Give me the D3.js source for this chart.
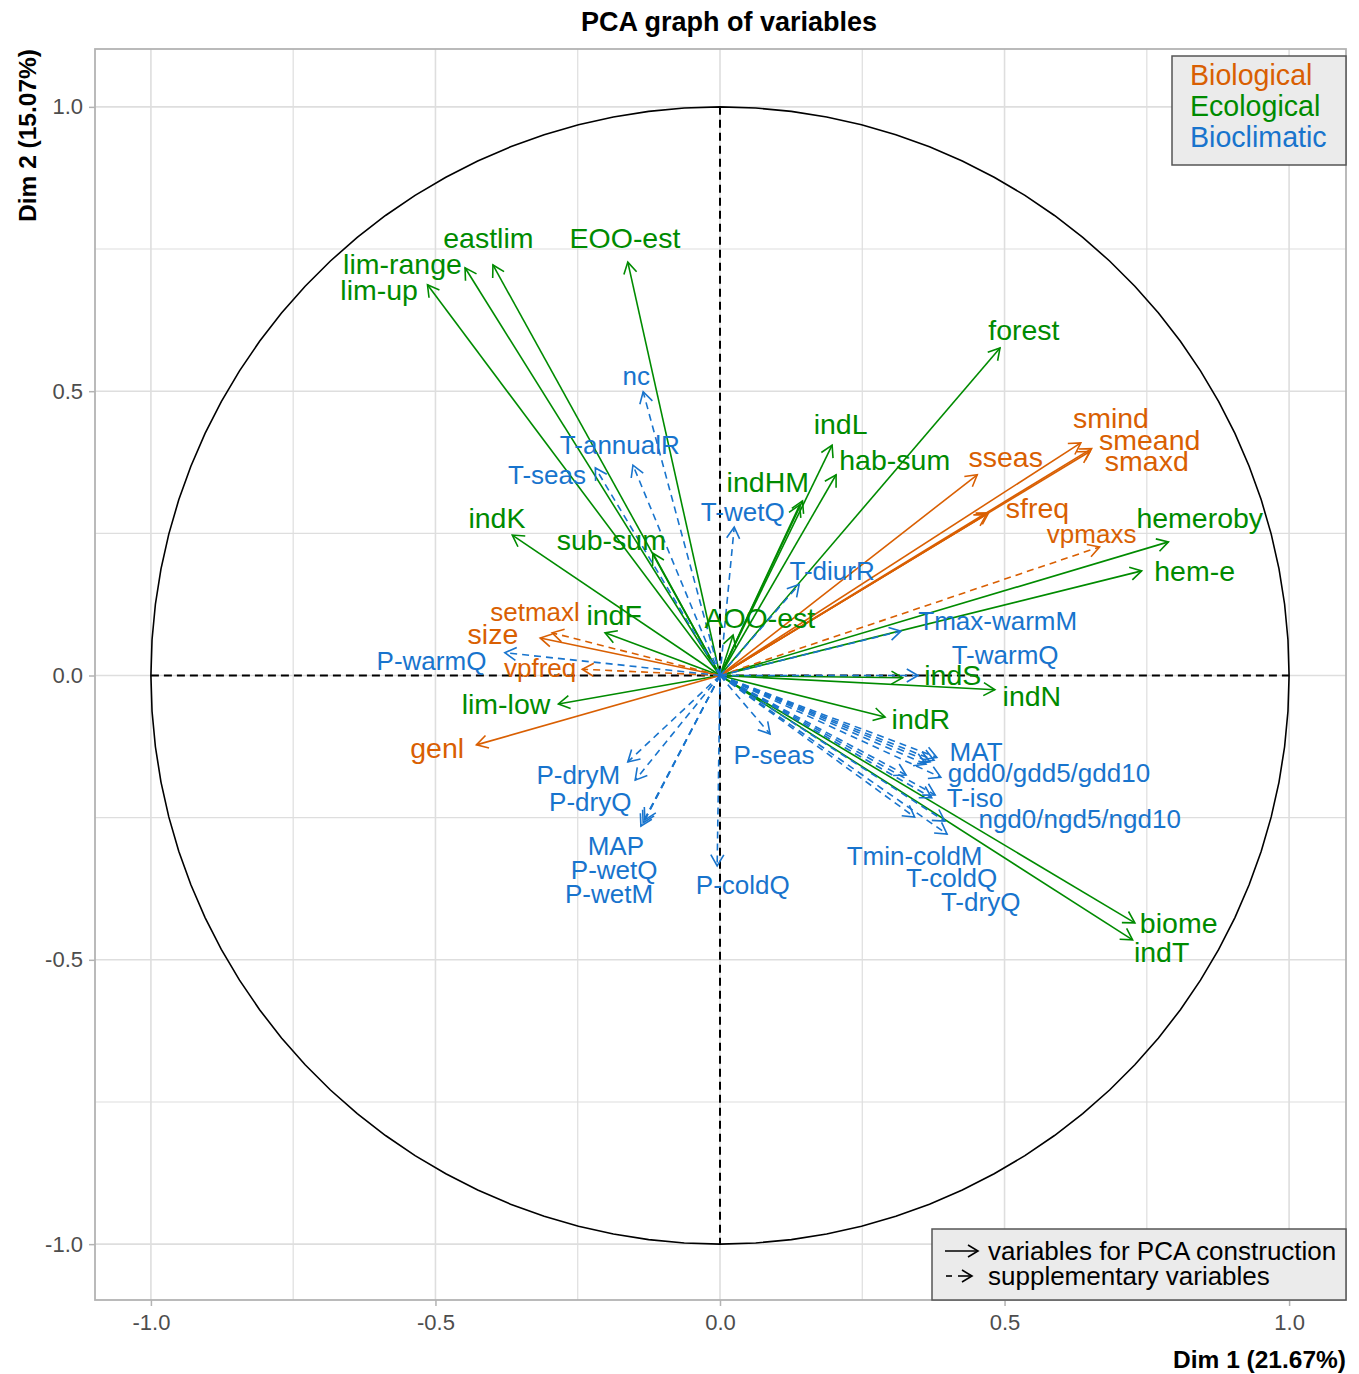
<!DOCTYPE html>
<head>
<meta charset="utf-8">
<script src="https://cdn.jsdelivr.net/npm/d3@7"></script>
</head>
<style>
body { margin: 0; background: #fff; }
text { font-family: "Liberation Sans", Arial, Helvetica, sans-serif; }
.grid line { stroke: #dedede; }
.tick-label { fill: #4d4d4d; font-size: 22px; }
</style>
<body>
<svg id="chart" width="1359" height="1374"></svg>
<script>

// active variables (solid arrows)
var activeNames = ["eastlim", "lim-range", "lim-up", "EOO-est", "forest", "indL", "hab-sum", "indHM", "indHM2",
  "indK", "sub-sum", "indF", "AOO-est", "lim-low", "hemeroby", "hem-e", "indS", "indN", "indR", "biome", "indT",
  "smind", "smeand", "smaxd", "sseas", "sfreq", "sfreq2", "size", "genl"];
var activeDim1 = [-0.399, -0.448, -0.514, -0.162, 0.492, 0.197, 0.204, 0.145, 0.140,
  -0.365, -0.118, -0.202, 0.023, -0.284, 0.788, 0.741, 0.321, 0.483, 0.290, 0.729, 0.725,
  0.634, 0.653, 0.650, 0.452, 0.472, 0.468, -0.316, -0.428];
var activeDim2 = [0.722, 0.717, 0.687, 0.727, 0.576, 0.405, 0.353, 0.307, 0.300,
  0.247, 0.215, 0.075, 0.071, -0.050, 0.235, 0.184, -0.004, -0.025, -0.073, -0.435, -0.465,
  0.409, 0.399, 0.394, 0.353, 0.286, 0.283, 0.066, -0.122];
var activeGroup = ["Eco", "Eco", "Eco", "Eco", "Eco", "Eco", "Eco", "Eco", "Eco",
  "Eco", "Eco", "Eco", "Eco", "Eco", "Eco", "Eco", "Eco", "Eco", "Eco", "Eco", "Eco",
  "Bio", "Bio", "Bio", "Bio", "Bio", "Bio", "Bio", "Bio"];

// supplementary variables (dashed arrows)
var suppNames = ["vpmaxs", "setmaxl", "vpfreq", "nc", "T-annualR", "T-seas", "T-wetQ", "T-diurR", "Tmax-warmM",
  "T-warmQ", "P-warmQ", "P-seas", "MAT", "gdd0", "gdd5", "gdd10", "T-iso", "ngd0", "ngd5", "ngd10",
  "Tmin-coldM", "T-coldQ", "T-dryQ", "P-dryM", "P-dryQ", "MAP", "P-wetQ", "P-wetM", "P-coldQ"];
var suppDim1 = [0.667, -0.295, -0.242, -0.135, -0.153, -0.219, 0.025, 0.139, 0.318,
  0.348, -0.378, 0.088, 0.381, 0.376, 0.369, 0.362, 0.388, 0.327, 0.378, 0.372,
  0.342, 0.395, 0.399, -0.162, -0.149, -0.132, -0.135, -0.139, -0.005];
var suppDim2 = [0.226, 0.075, 0.011, 0.499, 0.370, 0.365, 0.261, 0.160, 0.078,
  0.000, 0.040, -0.103, -0.144, -0.149, -0.152, -0.156, -0.179, -0.175, -0.210, -0.215,
  -0.249, -0.256, -0.279, -0.152, -0.184, -0.254, -0.259, -0.265, -0.335];
var suppGroup = ["Bio", "Bio", "Bio", "Clim", "Clim", "Clim", "Clim", "Clim", "Clim",
  "Clim", "Clim", "Clim", "Clim", "Clim", "Clim", "Clim", "Clim", "Clim", "Clim", "Clim",
  "Clim", "Clim", "Clim", "Clim", "Clim", "Clim", "Clim", "Clim", "Clim"];

// repelled label positions (in Dim units)
var labelText = ["eastlim", "lim-range", "lim-up", "EOO-est", "forest", "indL", "hab-sum", "indHM", "indK",
  "sub-sum", "indF", "AOO-est", "lim-low", "hemeroby", "hem-e", "indS", "indN", "indR", "biome", "indT",
  "smind", "smeand", "smaxd", "sseas", "sfreq", "size", "genl",
  "vpmaxs", "setmaxl", "vpfreq", "nc", "T-annualR", "T-seas", "T-wetQ", "T-diurR", "Tmax-warmM", "T-warmQ",
  "P-warmQ", "P-seas", "MAT", "gdd0/gdd5/gdd10", "T-iso", "ngd0/ngd5/ngd10", "Tmin-coldM", "T-coldQ", "T-dryQ",
  "P-dryM", "P-dryQ", "MAP", "P-wetQ", "P-wetM", "P-coldQ"];
var labelDim1 = [-0.407, -0.558, -0.599, -0.167, 0.534, 0.212, 0.307, 0.084, -0.392,
  -0.191, -0.186, 0.070, -0.376, 0.843, 0.834, 0.409, 0.548, 0.353, 0.806, 0.776,
  0.687, 0.755, 0.750, 0.502, 0.558, -0.399, -0.497,
  0.653, -0.325, -0.316, -0.147, -0.176, -0.304, 0.040, 0.197, 0.488, 0.501,
  -0.507, 0.095, 0.450, 0.578, 0.448, 0.632, 0.342, 0.407, 0.458,
  -0.249, -0.228, -0.183, -0.186, -0.195, 0.040];
var labelDim2 = [0.770, 0.724, 0.678, 0.770, 0.608, 0.442, 0.380, 0.341, 0.277,
  0.238, 0.106, 0.101, -0.050, 0.277, 0.184, 0.001, -0.036, -0.076, -0.434, -0.486,
  0.453, 0.415, 0.377, 0.384, 0.295, 0.073, -0.127,
  0.249, 0.113, 0.013, 0.527, 0.406, 0.353, 0.289, 0.184, 0.096, 0.036,
  0.027, -0.140, -0.134, -0.171, -0.215, -0.252, -0.316, -0.356, -0.397,
  -0.175, -0.221, -0.300, -0.342, -0.384, -0.367];
var labelSupp = labelText.map(function(d, i) { return i >= 27; });
var labelGroup = labelText.map(function(d, i) {
  if (i < 20) return "Eco";
  if (i < 30) return "Bio";
  return "Clim";
});

var ticks = [-1.0, -0.5, 0.0, 0.5, 1.0];
var minorTicks = [-0.75, -0.25, 0.25, 0.75];

var colors = {Bio: "#D95F02", Eco: "#008B00", Clim: "#1874CD"};

var svg = d3.select("#chart");
var pLeft = 95, pRight = 1346, pTop = 49, pBottom = 1300;

var x = d3.scaleLinear().domain([-1.1, 1.1]).range([94, 1346]),
    y = d3.scaleLinear().domain([-1.1, 1.1]).range([1301, 50]);

svg.append("rect").attr("width", 1359).attr("height", 1374).attr("fill", "#fff");

// grid
var grid = svg.append("g").attr("class", "grid");
grid.selectAll(".vmin").data(minorTicks).enter().append("line")
    .attr("x1", x).attr("x2", x).attr("y1", pTop).attr("y2", pBottom).attr("stroke-width", 1.2);
grid.selectAll(".hmin").data(minorTicks).enter().append("line")
    .attr("y1", y).attr("y2", y).attr("x1", pLeft).attr("x2", pRight).attr("stroke-width", 1.2);
grid.selectAll(".vmaj").data(ticks).enter().append("line")
    .attr("x1", x).attr("x2", x).attr("y1", pTop).attr("y2", pBottom).attr("stroke-width", 1.6);
grid.selectAll(".hmaj").data(ticks).enter().append("line")
    .attr("y1", y).attr("y2", y).attr("x1", pLeft).attr("x2", pRight).attr("stroke-width", 1.6);

// axes (ticks + labels), hyphen minus like R
var fmt = function(d) { return d3.format(".1f")(d).replace("\u2212", "-"); };
var xAxis = d3.axisBottom(x).tickValues(ticks).tickSize(6).tickPadding(8).tickFormat(fmt);
var yAxis = d3.axisLeft(y).tickValues(ticks).tickSize(6).tickPadding(6).tickFormat(fmt);
var gx = svg.append("g").attr("transform", "translate(0," + pBottom + ")").call(xAxis);
var gy = svg.append("g").attr("transform", "translate(" + pLeft + ",0)").call(yAxis);
[gx, gy].forEach(function(g) {
  g.select(".domain").remove();
  g.selectAll(".tick line").attr("stroke", "#b3b3b3").attr("stroke-width", 1.5);
  g.selectAll(".tick text").attr("class", "tick-label").attr("font-family", null).attr("font-size", null);
});

// zero lines (span the unit circle)
svg.append("line").attr("x1", x(-1)).attr("x2", x(1)).attr("y1", y(0)).attr("y2", y(0))
    .attr("stroke", "#000").attr("stroke-width", 2).attr("stroke-dasharray", "8,5");
svg.append("line").attr("x1", x(0)).attr("x2", x(0)).attr("y1", y(1)).attr("y2", y(-1))
    .attr("stroke", "#000").attr("stroke-width", 2).attr("stroke-dasharray", "8,5");

// correlation circle
var n = 100;
var circle = d3.range(n + 1).map(function(i) {
  var a = i / n * 2 * Math.PI;
  return [Math.cos(a), Math.sin(a)];
});
svg.append("path")
    .attr("d", d3.line().x(function(d) { return x(d[0]); }).y(function(d) { return y(d[1]); })(circle))
    .attr("fill", "none").attr("stroke", "#000").attr("stroke-width", 1.6);

// arrows
function headPath(d) {
  var x1 = x(0), y1 = y(0), x2 = x(d.d1), y2 = y(d.d2);
  var a = Math.atan2(y2 - y1, x2 - x1), len = 13, sp = Math.PI / 6;
  return "M" + (x2 - len * Math.cos(a - sp)) + "," + (y2 - len * Math.sin(a - sp)) +
         "L" + x2 + "," + y2 +
         "L" + (x2 - len * Math.cos(a + sp)) + "," + (y2 - len * Math.sin(a + sp));
}

function drawArrows(names, d1, d2, groups, dashed) {
  var data = names.map(function(nm, i) { return {name: nm, d1: d1[i], d2: d2[i], group: groups[i]}; });
  var g = svg.append("g");
  g.selectAll("line").data(data).enter().append("line")
      .attr("x1", x(0)).attr("y1", y(0))
      .attr("x2", function(d) { return x(d.d1); })
      .attr("y2", function(d) { return y(d.d2); })
      .attr("stroke", function(d) { return colors[d.group]; })
      .attr("stroke-width", 1.6)
      .attr("stroke-dasharray", dashed ? "7,5" : null);
  g.selectAll("path").data(data).enter().append("path")
      .attr("d", headPath)
      .attr("fill", "none")
      .attr("stroke", function(d) { return colors[d.group]; })
      .attr("stroke-width", 1.6);
}

drawArrows(activeNames, activeDim1, activeDim2, activeGroup, false);
drawArrows(suppNames, suppDim1, suppDim2, suppGroup, true);

// labels
var labels = labelText.map(function(t, i) {
  return {text: t, d1: labelDim1[i], d2: labelDim2[i], group: labelGroup[i], supp: labelSupp[i]};
});
svg.append("g").selectAll("text").data(labels).enter().append("text")
    .attr("x", function(d) { return x(d.d1); })
    .attr("y", function(d) { return y(d.d2); })
    .attr("dy", "0.36em")
    .attr("text-anchor", "middle")
    .attr("font-size", function(d) { return d.supp ? "26px" : "28.5px"; })
    .attr("fill", function(d) { return colors[d.group]; })
    .text(function(d) { return d.text; });

// panel border
svg.append("rect").attr("x", pLeft).attr("y", pTop).attr("width", pRight - pLeft).attr("height", pBottom - pTop)
    .attr("fill", "none").attr("stroke", "#b3b3b3").attr("stroke-width", 1.8);

// group legend
var legendItems = [["Biological", "Bio"], ["Ecological", "Eco"], ["Bioclimatic", "Clim"]];
svg.append("rect").attr("x", 1172).attr("y", 56).attr("width", 174).attr("height", 109)
    .attr("fill", "#ebebeb").attr("stroke", "#555").attr("stroke-width", 1.5);
svg.append("g").selectAll("text").data(legendItems).enter().append("text")
    .attr("x", 1190).attr("y", function(d, i) { return 75 + i * 31; })
    .attr("dy", "0.36em").attr("font-size", "28.6px")
    .attr("fill", function(d) { return colors[d[1]]; })
    .text(function(d) { return d[0]; });

// arrow type legend
svg.append("rect").attr("x", 932).attr("y", 1229).attr("width", 414).attr("height", 71)
    .attr("fill", "#ebebeb").attr("stroke", "#555").attr("stroke-width", 1.5);
var lg = svg.append("g").attr("stroke", "#000").attr("stroke-width", 1.6).attr("fill", "none");
lg.append("line").attr("x1", 945).attr("x2", 978).attr("y1", 1251).attr("y2", 1251);
lg.append("path").attr("d", "M968,1245L978,1251L968,1257");
lg.append("line").attr("x1", 946).attr("x2", 952).attr("y1", 1276).attr("y2", 1276);
lg.append("line").attr("x1", 958).attr("x2", 972).attr("y1", 1276).attr("y2", 1276);
lg.append("path").attr("d", "M962,1270L972,1276L962,1282");
svg.append("text").attr("x", 988).attr("y", 1251).attr("dy", "0.36em").attr("font-size", "26px")
    .text("variables for PCA construction");
svg.append("text").attr("x", 988).attr("y", 1276).attr("dy", "0.36em").attr("font-size", "26px")
    .text("supplementary variables");

// titles
svg.append("text").attr("x", 729).attr("y", 31).attr("text-anchor", "middle")
    .attr("font-size", "27px").attr("font-weight", "bold").text("PCA graph of variables");
svg.append("text").attr("x", 1346).attr("y", 1368).attr("text-anchor", "end")
    .attr("font-size", "24.5px").attr("font-weight", "bold").text("Dim 1 (21.67%)");
svg.append("text").attr("transform", "translate(36," + pTop + ") rotate(-90)").attr("text-anchor", "end")
    .attr("font-size", "24.5px").attr("font-weight", "bold").text("Dim 2 (15.07%)");

</script>
</body>
